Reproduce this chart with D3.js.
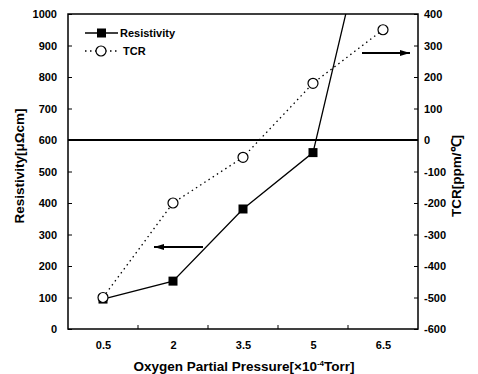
<!DOCTYPE html>
<html><head><meta charset="utf-8">
<script src="https://cdn.jsdelivr.net/npm/d3@7"></script>
<style>body{margin:0;background:#fff}text{font-family:"Liberation Sans",Arial,sans-serif;font-weight:bold}</style>
</head><body>
<svg id="c" width="478" height="374"></svg>
<script>
const categories = ["0.5","2","3.5","5","6.5"];
const resistivity = [95, 152, 381, 560, 1500];
const tcr = [-500, -200, -55, 180, 350];
const leftTicks = [0,100,200,300,400,500,600,700,800,900,1000];
const rightTicks = [-600,-500,-400,-300,-200,-100,0,100,200,300,400];

const svg = d3.select("#c");
const L=68,R=418,T=14,B=329;
const x = d3.scalePoint().domain(categories).range([L,R]).padding(0.5);
const yL = d3.scaleLinear().domain([0,1000]).range([B,T]);
const yR = d3.scaleLinear().domain([-600,400]).range([B,T]);

svg.append("defs").append("clipPath").attr("id","clip").append("rect")
  .attr("x",L).attr("y",T).attr("width",R-L).attr("height",B-T);

svg.append("rect").attr("x",L).attr("y",T).attr("width",R-L).attr("height",B-T)
  .attr("fill","none").attr("stroke","#000").attr("stroke-width",1.5);

const la = svg.append("g").attr("transform",`translate(${L},0)`)
  .call(d3.axisLeft(yL).tickValues(leftTicks).tickSize(-4).tickPadding(11).tickFormat(d=>String(d)));
la.select(".domain").remove();
la.selectAll("text").attr("font-size",11).attr("font-weight","bold");
const ra = svg.append("g").attr("transform",`translate(${R},0)`)
  .call(d3.axisRight(yR).tickValues(rightTicks).tickSize(-4).tickPadding(6).tickFormat(d=>String(d)));
ra.select(".domain").remove();
ra.selectAll("text").attr("font-size",11).attr("font-weight","bold");
const step = x.step();
const ba = svg.append("g").attr("transform",`translate(0,${B})`)
  .call(d3.axisBottom(x).tickSize(0).tickPadding(12));
ba.select(".domain").remove();
ba.selectAll("text").attr("font-size",11).attr("font-weight","bold");
svg.append("g").selectAll("line").data(categories.slice(0,-1)).join("line")
  .attr("x1",d=>x(d)+step/2).attr("x2",d=>x(d)+step/2)
  .attr("y1",B).attr("y2",B-4).attr("stroke","#000");

svg.append("line").attr("x1",L).attr("x2",R).attr("y1",yR(0)).attr("y2",yR(0))
  .attr("stroke","#000").attr("stroke-width",2);

const g = svg.append("g").attr("clip-path","url(#clip)");
g.append("path").datum(tcr.map((v,i)=>[x(categories[i]),yR(v)]))
  .attr("d",d3.line()).attr("fill","none").attr("stroke","#000")
  .attr("stroke-width",1.3).attr("stroke-dasharray","1.5,3.5");
g.append("path").datum(resistivity.map((v,i)=>[x(categories[i]),yL(v)]))
  .attr("d",d3.line()).attr("fill","none").attr("stroke","#000").attr("stroke-width",1.3);

g.selectAll("rect.m").data(resistivity).join("rect").attr("class","m")
  .attr("x",(d,i)=>x(categories[i])-4.5).attr("y",d=>yL(d)-4.5)
  .attr("width",9).attr("height",9).attr("fill","#000");
g.selectAll("circle.m").data(tcr).join("circle").attr("class","m")
  .attr("cx",(d,i)=>x(categories[i])).attr("cy",d=>yR(d)).attr("r",5)
  .attr("fill","#fff").attr("stroke","#000").attr("stroke-width",1.2);

function arrow(x1,x2,y){
  svg.append("line").attr("x1",x1).attr("x2",x2).attr("y1",y).attr("y2",y)
    .attr("stroke","#000").attr("stroke-width",1.8);
  const dir = Math.sign(x2-x1);
  svg.append("path").attr("d",`M${x2},${y} L${x2-dir*10},${y-3} L${x2-dir*10},${y+3} Z`).attr("fill","#000");
}
arrow(362,410,53);
arrow(203,154,247);

const lg = svg.append("g");
lg.append("line").attr("x1",85).attr("x2",118).attr("y1",33).attr("y2",33).attr("stroke","#000").attr("stroke-width",1.3);
lg.append("rect").attr("x",97).attr("y",28.5).attr("width",9).attr("height",9).attr("fill","#000");
lg.append("text").attr("x",120).attr("y",37).attr("font-size",11).text("Resistivity");
lg.append("line").attr("x1",85).attr("x2",118).attr("y1",51).attr("y2",51).attr("stroke","#000")
  .attr("stroke-width",1.3).attr("stroke-dasharray","1.5,3.5");
lg.append("circle").attr("cx",101).attr("cy",51).attr("r",5).attr("fill","#fff").attr("stroke","#000").attr("stroke-width",1.2);
lg.append("text").attr("x",123).attr("y",55).attr("font-size",11).text("TCR");

svg.append("text").attr("transform","translate(24,166) rotate(-90)").attr("text-anchor","middle")
  .attr("font-size",13.5).text("Resistivity[μΩcm]");
svg.append("text").attr("transform","translate(461,176) rotate(-90)").attr("text-anchor","middle")
  .attr("font-size",13.5).text("TCR[ppm/℃]");
const xt = svg.append("text").attr("x",244).attr("y",371).attr("text-anchor","middle").attr("font-size",13.5);
xt.append("tspan").text("Oxygen Partial Pressure[×10");
xt.append("tspan").attr("dy",-5).attr("font-size",8).text("-4");
xt.append("tspan").attr("dy",5).text("Torr]");
</script>
</body></html>
